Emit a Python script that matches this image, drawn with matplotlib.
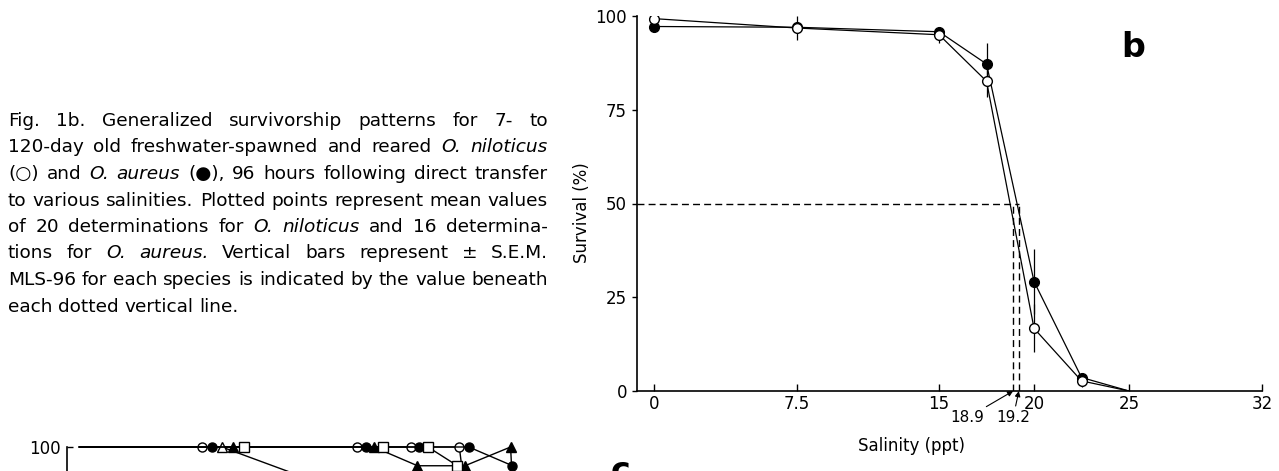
import matplotlib.pyplot as plt
import numpy as np

plt.rcParams['font.family'] = ['DejaVu Sans']

# panel b: survival 96 h after direct transfer
salinity = [0, 7.5, 15, 17.5, 20, 22.5, 25]
niloticus = [99.3, 96.8, 95.0, 82.6, 16.7, 2.7, 0.0]      # open circles
niloticus_sem = [1.5, 3.2, 2.2, 4.2, 6.4, 1.5, 0.0]
aureus = [97.2, 97.0, 95.8, 87.2, 29.2, 3.6, 0.0]         # filled circles
aureus_sem = [1.0, 1.0, 1.0, 5.5, 8.7, 1.2, 0.0]
mls96 = [18.9, 19.2]
xticks = [0, 7.5, 15, 20, 25, 32]
xticklabels = ['0', '7.5', '15', '20', '25', '32']
yticks = [0, 25, 50, 75, 100]

# panel c: only its top shows at the foot of the page
# (the points are staggered sideways in the original, x read as plotted)
c_open_circle_x = [0, 6.45, 14.6, 17.45, 20.0, 22.3]
c_open_circle = [100, 100, 100, 100, 100, 8]
c_filled_circle_x = [0, 7.0, 15.1, 17.9, 20.5, 22.8, 23.2]
c_filled_circle = [100, 100, 100, 100, 100, 95, 40]
c_open_triangle_x = [0, 7.5, 15.0]
c_open_triangle = [100, 100, 86]
c_filled_triangle_x = [0, 8.1, 15.5, 17.8, 20.3, 22.7, 23.4]
c_filled_triangle = [100, 100, 100, 95, 95, 100, 30]
c_open_square_x = [0, 8.65, 16.0, 18.35, 19.9, 22.5]
c_open_square = [100, 100, 100, 100, 95, 40]

caption = [
    "Fig. 1b. Generalized survivorship patterns for 7- to",
    "120-day old freshwater-spawned and reared *O.* *niloticus*",
    "(\u25cb) and *O.* *aureus* (\u25cf), 96 hours following direct transfer",
    "to various salinities. Plotted points represent mean values",
    "of 20 determinations for *O.* *niloticus* and 16 determina-",
    "tions for *O.* *aureus.* Vertical bars represent \u00b1 S.E.M.",
    "MLS-96 for each species is indicated by the value beneath",
    "each dotted vertical line.",
]

W, H = 1279, 471
fig = plt.figure(figsize=(W / 100, H / 100), dpi=100)


def px_axes(left, top, width, height):
    # axes placed in pixel units measured from the top-left of the page
    return fig.add_axes([left / W, (H - top - height) / H, width / W, height / H])


# ---------------- panel b ----------------
ax = px_axes(637, 16, 625, 375)
ax.set_xlim(-0.9, 32)
ax.set_ylim(0, 100)

ax.errorbar(salinity, aureus, yerr=aureus_sem, fmt='none', ecolor='k', elinewidth=0.9, capsize=0, zorder=2)
ax.errorbar(salinity, niloticus, yerr=niloticus_sem, fmt='none', ecolor='k', elinewidth=0.9, capsize=0, zorder=2)
ax.plot(salinity, aureus, '-o', color='k', mfc='k', mec='k', ms=7, lw=0.9,
        markevery=slice(0, len(salinity) - 1), zorder=3)
ax.plot(salinity, niloticus, '-o', color='k', mfc='white', mec='k', mew=1.0, ms=7, lw=0.9,
        markevery=slice(0, len(salinity) - 1), zorder=4)

# MLS-96 guide lines
ax.hlines(50, ax.get_xlim()[0], max(mls96), colors='k', linestyles=(0, (5, 3)), lw=1.0)
ax.vlines(mls96, 0, 50, colors='k', linestyles=(0, (5, 3)), lw=1.0)
for m, tx in zip(mls96, [16.5, 18.9]):
    ax.annotate(f'{m}', xy=(m, 0), xytext=(tx, -7.1), textcoords='data',
                ha='center', va='center', fontsize=11, annotation_clip=False,
                arrowprops=dict(arrowstyle='-|>', color='k', lw=0.8,
                                mutation_scale=8, shrinkA=1, shrinkB=0))

for s in ['top', 'right']:
    ax.spines[s].set_visible(False)
for s in ['left', 'bottom']:
    ax.spines[s].set_linewidth(1.2)
ax.set_xticks(xticks)
ax.set_xticklabels(xticklabels)
ax.set_yticks(yticks)
ax.tick_params(axis='x', direction='in', length=5, width=1.0, pad=3, labelsize=12)
ax.tick_params(axis='y', direction='out', length=3.6, width=1.0, pad=3.6, labelsize=12)
ax.set_ylabel('Survival (%)', fontsize=12, va='center')
ax.yaxis.set_label_coords(-0.088, 0.475)
ax.set_xlabel('Salinity (ppt)', fontsize=12, va='center')
ax.xaxis.set_label_coords(0.44, -0.147)

fig.text(1133 / W, 1 - 57 / H, 'b', fontsize=24, fontweight='bold', ha='center', va='baseline')

# ---------------- panel c (cut off) ----------------
axc = px_axes(67, 447, 625, 375)
axc.set_xlim(-0.65, 32.25)
axc.set_ylim(0, 100)
series = [
    (c_open_circle_x, c_open_circle, 'o', 'white'),
    (c_filled_circle_x, c_filled_circle, 'o', 'k'),
    (c_open_triangle_x, c_open_triangle, '^', 'white'),
    (c_filled_triangle_x, c_filled_triangle, '^', 'k'),
    (c_open_square_x, c_open_square, 's', 'white'),
]
for xs, vals, mk, face in series:
    axc.plot(xs, vals, '-', color='k', lw=1.0, marker=mk, mfc=face, mec='k',
             ms=6.5, mew=1.0, markevery=slice(1, None), clip_on=False)
for s in ['top', 'right', 'bottom']:
    axc.spines[s].set_visible(False)
axc.spines['left'].set_linewidth(1.2)
axc.set_xticks([])
axc.set_yticks([100])
axc.tick_params(axis='y', direction='in', length=4.3, width=1.0, pad=4.3, labelsize=12)

fig.text(620 / W, 1 - 481 / H, 'c', fontsize=24, fontweight='bold', ha='center', va='baseline')

# ---------------- justified caption ----------------
renderer = fig.canvas.get_renderer()


def measure(word, size, italic):
    t = fig.text(0, 0, word, fontsize=size, style='italic' if italic else 'normal')
    w = t.get_window_extent(renderer).width
    t.remove()
    return w


lines = [[(w.strip('*'), w.startswith('*')) for w in ln.split()] for ln in caption]
left, right = 8, 548
base = 12.0
space = measure('a a', base, False) - measure('aa', base, False)
natural = max(sum(measure(t, base, it) for t, it in toks) + space * (len(toks) - 1)
              for toks in lines[:-1])
size = base * (right - left) / natural * 0.995

for i, toks in enumerate(lines):
    widths = [measure(t, size, it) for t, it in toks]
    if i == len(lines) - 1:
        gap = space * size / base
    else:
        gap = (right - left - sum(widths)) / (len(toks) - 1)
    x = left
    baseline = 126 + 26.5 * i
    for (t, it), w in zip(toks, widths):
        fig.text(x / W, 1 - baseline / H, t, fontsize=size,
                 style='italic' if it else 'normal', ha='left', va='baseline')
        x += w + gap

fig.savefig('out.png', dpi=100)
